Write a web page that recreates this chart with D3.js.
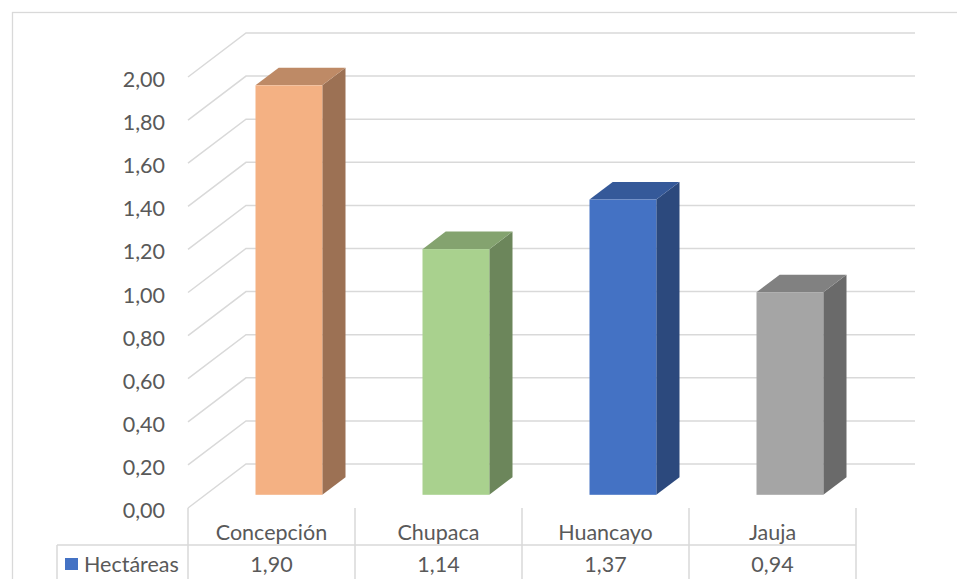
<!DOCTYPE html>
<html>
<head>
<meta charset="utf-8">
<script src="https://cdn.jsdelivr.net/npm/d3@7"></script>
<style>
  html, body { margin: 0; padding: 0; background: #fff; }
  svg { display: block; }
  text { font-family: Lato, "Liberation Sans", sans-serif; fill: #595959; }
</style>
</head>
<body>
<svg id="chart" width="957" height="579"></svg>
<script>
// Data
const categories = ["Concepción", "Chupaca", "Huancayo", "Jauja"];
const values = [1.90, 1.14, 1.37, 0.94];
const seriesName = "Hectáreas";
const tickValues = [0, 0.2, 0.4, 0.6, 0.8, 1.0, 1.2, 1.4, 1.6, 1.8, 2.0];
const frontColors = ["#F4B183", "#A9D18E", "#4472C4", "#A5A5A5"];

const fmt = v => d3.format(".2f")(v).replace(".", ",");
const FS = 21.5;

const svg = d3.select("#chart");
const W = 957, H = 579;

// Chart area frame
svg.append("rect")
  .attr("x", 12.5).attr("y", 12.5)
  .attr("width", W + 20).attr("height", H + 20)
  .attr("fill", "none").attr("stroke", "#D9D9D9").attr("stroke-width", 1.3);

// Front plane scales
const y = d3.scaleLinear().domain([0, 2]).range([508, 77]);
const x = d3.scaleBand().domain(categories).range([188, 856]).padding(0);

// Depth vector of the floor (oblique projection)
const depth = { dx: 58, dy: -44 };
const backRight = 915;

// Walls: diagonal on the side wall, horizontal on the back wall
const grid = svg.append("g").attr("fill", "none").attr("stroke", "#D9D9D9").attr("stroke-width", 1.5);
tickValues.forEach(t => {
  const y0 = y(t);
  grid.append("path").attr("d", d3.line()([
    [x.range()[0], y0],
    [x.range()[0] + depth.dx, y0 + depth.dy],
    [backRight, y0 + depth.dy]
  ]));
});

// Y tick labels
svg.append("g").selectAll("text").data(tickValues).join("text")
  .attr("x", 165).attr("y", d => y(d) + 2)
  .attr("text-anchor", "end").attr("dominant-baseline", "central")
  .attr("font-size", FS)
  .text(fmt);

// 3D bars
const shade = (c, k) => { const r = d3.rgb(c); return d3.rgb(r.r * k, r.g * k, r.b * k).formatHex(); };
const barFrac = 0.4;          // width share of band and of depth
const zFront = (1 - barFrac) / 2;
const bars = svg.append("g");
categories.forEach((c, i) => {
  const bw = x.bandwidth() * barFrac;
  const x0 = x(c) + x.bandwidth() / 2 - bw / 2 + depth.dx * zFront;
  const x1 = x0 + bw;
  const yb = y(0) + depth.dy * zFront;
  const yt = y(values[i]) + depth.dy * zFront;
  const ddx = depth.dx * barFrac, ddy = depth.dy * barFrac;
  const col = frontColors[i];
  // side
  bars.append("path").attr("fill", shade(col, 0.64))
    .attr("d", d3.line()([[x1, yb], [x1 + ddx, yb + ddy], [x1 + ddx, yt + ddy], [x1, yt]]) + "Z");
  // top
  bars.append("path").attr("fill", shade(col, 0.78))
    .attr("d", d3.line()([[x0, yt], [x0 + ddx, yt + ddy], [x1 + ddx, yt + ddy], [x1, yt]]) + "Z");
  // front
  bars.append("rect").attr("fill", col)
    .attr("x", x0).attr("y", yt).attr("width", bw).attr("height", yb - yt);
});

// Data table
const tbl = svg.append("g").attr("stroke", "#D9D9D9").attr("stroke-width", 1.5).attr("fill", "none");
const tableTop = 508, rowLine = 545, tableBottom = H + 5, legendLeft = 57;
x.domain().forEach(c => {
  tbl.append("line").attr("x1", x(c)).attr("x2", x(c)).attr("y1", tableTop).attr("y2", tableBottom);
});
tbl.append("line").attr("x1", x.range()[1]).attr("x2", x.range()[1]).attr("y1", tableTop).attr("y2", tableBottom);
tbl.append("line").attr("x1", legendLeft).attr("x2", x.range()[1]).attr("y1", rowLine).attr("y2", rowLine);
tbl.append("line").attr("x1", legendLeft).attr("x2", legendLeft).attr("y1", rowLine).attr("y2", tableBottom);

svg.append("g").selectAll("text").data(categories).join("text")
  .attr("x", d => x(d) + x.bandwidth() / 2).attr("y", 532)
  .attr("text-anchor", "middle").attr("dominant-baseline", "central")
  .attr("font-size", FS).text(d => d);

svg.append("g").selectAll("text").data(values).join("text")
  .attr("x", (d, i) => x(categories[i]) + x.bandwidth() / 2).attr("y", 564)
  .attr("text-anchor", "middle").attr("dominant-baseline", "central")
  .attr("font-size", FS).text(fmt);

// Legend key in the table
svg.append("rect").attr("x", 65).attr("y", 558).attr("width", 13).attr("height", 12).attr("fill", "#4472C4");
svg.append("text").attr("x", 84).attr("y", 564).attr("dominant-baseline", "central")
  .attr("font-size", FS).text(seriesName);
</script>
</body>
</html>
